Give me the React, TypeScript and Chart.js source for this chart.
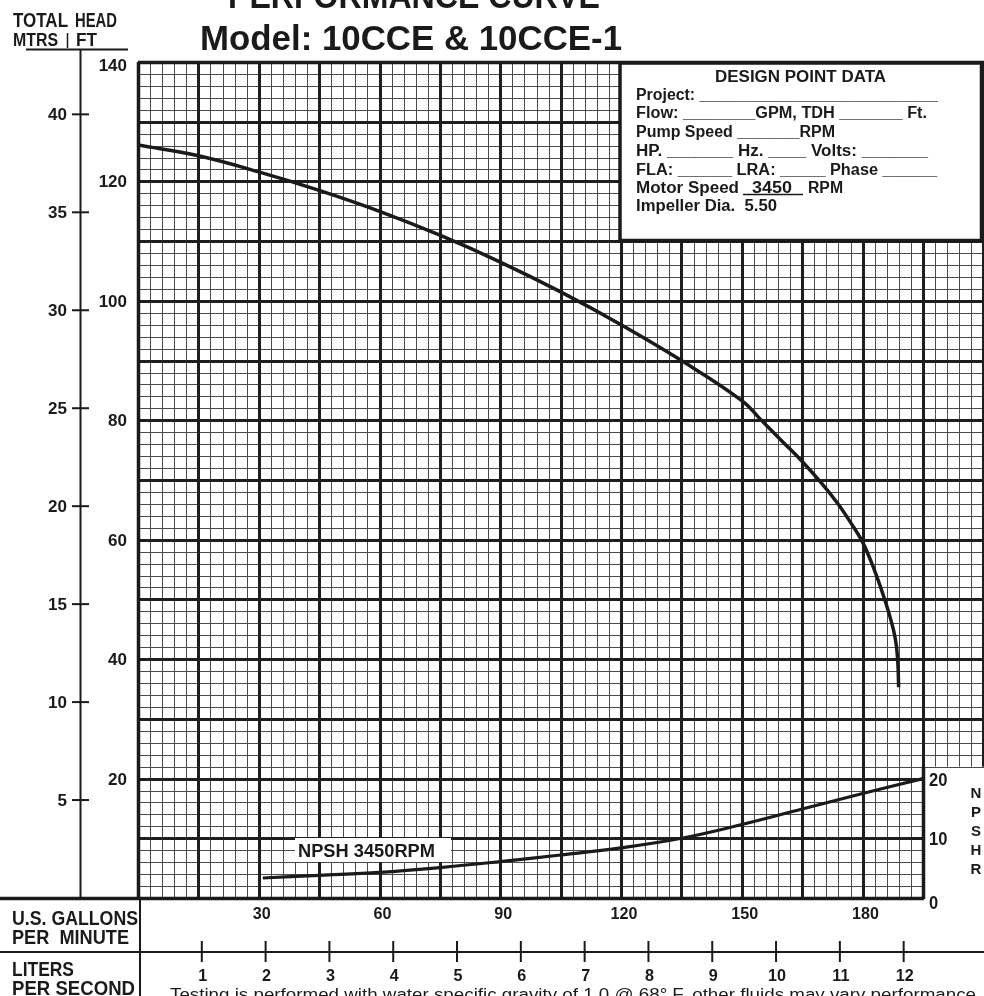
import React, { useEffect, useRef } from "react";
import { Chart, registerables } from "chart.js";

Chart.register(...registerables);

// ---- data ----
const headFlowGpm = [0, 15, 30, 45, 60, 75, 90, 105, 120, 135, 150, 155, 160, 165, 170, 174, 177, 180, 183, 185, 186.5, 187.7, 188.4, 188.8, 188.95];
const headFt = [126.1, 124.3, 121.6, 118.5, 115.0, 111.0, 106.5, 101.5, 96.0, 90.0, 83.3, 79.9, 76.5, 73.1, 69.3, 65.9, 62.9, 59.6, 54.8, 51.0, 47.8, 44.8, 42.2, 38.8, 35.3];

const npshFlowGpm = [31, 45, 60, 75, 90, 105, 120, 135, 150, 165, 180, 195];
const npshFt = [3.35, 3.8, 4.3, 5.1, 6.1, 7.2, 8.4, 10.0, 12.3, 14.9, 17.5, 20.0];

const gpmTicks = [30, 60, 90, 120, 150, 180];
const lpsTicks = [1, 2, 3, 4, 5, 6, 7, 8, 9, 10, 11, 12];
const ftTicks = [140, 120, 100, 80, 60, 40, 20];
const mtrsTicks = [40, 35, 30, 25, 20, 15, 10, 5];
const npshTicks = [20, 10, 0];

const X_MAX = 210.16;
const Y_MAX = 140;
const NPSH_END_GPM = 195;
const GPM_PER_LPS = 15.8503;
const FT_PER_M = 3.28084;

const FONT = '"Liberation Sans", Arial, "DejaVu Sans", sans-serif';

function txt(
  ctx: CanvasRenderingContext2D,
  text: string,
  x: number,
  y: number,
  size: number,
  opts: { width?: number; sx?: number; align?: CanvasTextAlign; weight?: string; family?: string } = {}
) {
  const { width, sx = 1, align = "left", weight = "bold", family = FONT } = opts;
  ctx.font = `${weight} ${size}px ${family}`;
  const w = ctx.measureText(text).width;
  const s = width ? width / w : sx;
  ctx.save();
  ctx.translate(x, y);
  ctx.scale(s, 1);
  ctx.textAlign = align;
  ctx.textBaseline = "alphabetic";
  ctx.fillStyle = "#1a1a1a";
  ctx.fillText(text, 0, 0);
  ctx.restore();
}

function line(ctx: CanvasRenderingContext2D, x1: number, y1: number, x2: number, y2: number, w: number, color = "#1a1a1a") {
  ctx.beginPath();
  ctx.strokeStyle = color;
  ctx.lineWidth = w;
  ctx.moveTo(x1, y1);
  ctx.lineTo(x2, y2);
  ctx.stroke();
}

const paperPlugin = {
  id: "paper",
  beforeDraw(chart: any) {
    const { ctx, width, height } = chart;
    ctx.save();
    ctx.fillStyle = "#ffffff";
    ctx.fillRect(0, 0, width, height);
    ctx.restore();
  },
  beforeDatasetsDraw(chart: any) {
    const { ctx } = chart;
    const x = chart.scales.x;
    const y = chart.scales.y;
    const ca = chart.chartArea;
    ctx.save();
    const xEnd = x.getPixelForValue(NPSH_END_GPM);
    const yBottom = y.getPixelForValue(0);
    const y22 = y.getPixelForValue(22);
    for (const pass of [0, 1]) {
      for (let g = 0; g <= 210; g += 3) {
        const major = g % 15 === 0;
        if ((pass === 1) !== major) continue;
        const px = Math.round(x.getPixelForValue(g)) + 0.5;
        const bottom = g <= NPSH_END_GPM ? yBottom : y22;
        line(ctx, px, ca.top, px, bottom, major ? 3 : 1, major ? "#1e1e1e" : "#4a4a4a");
      }
      for (let f = 0; f <= 140; f += 2) {
        const major = f % 10 === 0;
        if ((pass === 1) !== major) continue;
        const py = Math.round(y.getPixelForValue(f)) + 0.5;
        const right = f >= 22 ? ca.right : xEnd;
        line(ctx, ca.left, py, right, py, major ? 3 : 1, major ? "#1e1e1e" : "#4a4a4a");
      }
    }
    const x0 = Math.round(x.getPixelForValue(0)) + 0.5;
    line(ctx, x0, ca.top, x0, yBottom + 1, 3.5);
    line(ctx, ca.left, Math.round(ca.top) + 0.5, ca.right, Math.round(ca.top) + 0.5, 3.5);
    line(ctx, 0, Math.round(yBottom) + 0.5, xEnd + 1, Math.round(yBottom) + 0.5, 3.5);
    line(ctx, Math.round(xEnd) + 0.5, y.getPixelForValue(22), Math.round(xEnd) + 0.5, yBottom + 1, 3.5);
    ctx.restore();
  },
  afterDatasetsDraw(chart: any) {
    const { ctx } = chart;
    const x = chart.scales.x;
    const y = chart.scales.y;
    ctx.save();

    // ---- title ----
    txt(ctx, "PERFORMANCE CURVE", 228, 8, 35, { width: 372 });
    txt(ctx, "Model: 10CCE & 10CCE-1", 200, 50, 35, { width: 422 });

    // ---- header of the left axes ----
    txt(ctx, "TOTAL", 13, 27, 20, { width: 55 });
    txt(ctx, "HEAD", 75, 27, 20, { width: 42 });
    txt(ctx, "MTRS", 13, 46, 19, { width: 45 });
    line(ctx, 67.5, 33, 67.5, 48, 1.5);
    txt(ctx, "FT", 76, 46, 19, { width: 21 });
    line(ctx, 26, 49.5, 128, 49.5, 2);

    // ---- metres axis ----
    const yBottom = y.getPixelForValue(0);
    line(ctx, 80.5, 49, 80.5, yBottom, 2);
    for (const m of mtrsTicks) {
      const py = y.getPixelForValue(m * FT_PER_M);
      line(ctx, 72, py, 89, py, 2);
      txt(ctx, String(m), 67, py + 6, 17, { align: "right" });
    }

    // ---- feet labels ----
    for (const f of ftTicks) {
      const py = y.getPixelForValue(f);
      const off = f === 140 ? 9 : 6;
      txt(ctx, String(f), 127, py + off, 17, { align: "right" });
    }

    // ---- NPSH axis (right) ----
    for (const n of npshTicks) {
      const py = y.getPixelForValue(n);
      txt(ctx, String(n), 929, py + (n === 0 ? 11 : 7), 18, { sx: 0.92 });
    }
    const letters = ["N", "P", "S", "H", "R"];
    letters.forEach((c, i) => txt(ctx, c, 976, 798 + i * 19, 15, { align: "center" }));

    // ---- bottom axes ----
    for (const g of gpmTicks) {
      txt(ctx, String(g), x.getPixelForValue(g) + 3, 919, 17, { align: "center", sx: 0.95 });
    }
    txt(ctx, "U.S. GALLONS", 12, 925, 20, { width: 126 });
    txt(ctx, "PER  MINUTE", 12, 944, 20, { width: 117 });
    line(ctx, 0, 952, 984, 952, 2);
    line(ctx, 140, yBottom, 140, 996, 2);
    for (const l of lpsTicks) {
      const px = x.getPixelForValue(l * GPM_PER_LPS);
      line(ctx, px, 941, px, 962, 2);
      txt(ctx, String(l), px + 1, 981, 17, { align: "center", sx: 0.95 });
    }
    txt(ctx, "LITERS", 12, 976, 20, { width: 62 });
    txt(ctx, "PER SECOND", 12, 995, 20, { width: 123 });

    txt(
      ctx,
      "Testing is performed with water specific gravity of 1.0 @ 68\u00b0 F, other fluids may vary performance",
      170,
      1000,
      16,
      { width: 806, weight: "normal" }
    );

    // ---- NPSH label ----
    ctx.fillStyle = "#ffffff";
    ctx.fillRect(295, 838, 156, 24);
    txt(ctx, "NPSH 3450RPM", 298, 857, 19, { width: 137 });

    // ---- design point data box ----
    ctx.fillStyle = "#ffffff";
    ctx.fillRect(620, 62, 362, 179);
    ctx.strokeStyle = "#1a1a1a";
    ctx.lineWidth = 3.5;
    ctx.strokeRect(620, 63, 361.5, 177.5);
    txt(ctx, "DESIGN POINT DATA", 715, 82, 16, { width: 171 });
    txt(ctx, "Project: ___________________________", 636, 100, 16, { width: 302 });
    txt(ctx, "Flow: ________GPM, TDH _______ Ft.", 636, 118, 16, { width: 291 });
    txt(ctx, "Pump Speed _______RPM", 636, 136.5, 16, { width: 199 });
    txt(ctx, "HP. _______ Hz. ____ Volts: _______", 636, 156, 16, { width: 292 });
    txt(ctx, "FLA: ______ LRA: _____ Phase ______", 636, 175, 16, { width: 301 });
    txt(ctx, "Motor Speed", 636, 192.5, 16, { width: 103 });
    txt(ctx, "3450", 752, 192.5, 16, { width: 40 });
    line(ctx, 743, 194.5, 803, 194.5, 1.5);
    txt(ctx, "RPM", 808, 192.5, 16, { width: 35 });
    txt(ctx, "Impeller Dia.  5.50", 636, 210.5, 16, { width: 141 });

    ctx.restore();
  },
};

export default function App() {
  const ref = useRef<HTMLCanvasElement | null>(null);

  useEffect(() => {
    if (!ref.current) return;
    const chart = new Chart(ref.current, {
      type: "line",
      data: {
        datasets: [
          {
            label: "Head",
            data: headFlowGpm.map((g, i) => ({ x: g, y: headFt[i] })),
            borderColor: "#1a1a1a",
            borderWidth: 3.5,
            pointRadius: 0,
            tension: 0.4,
            fill: false,
          },
          {
            label: "NPSH 3450RPM",
            data: npshFlowGpm.map((g, i) => ({ x: g, y: npshFt[i] })),
            borderColor: "#1a1a1a",
            borderWidth: 3.2,
            pointRadius: 0,
            tension: 0.4,
            fill: false,
          },
        ],
      },
      options: {
        responsive: false,
        animation: false,
        devicePixelRatio: 1,
        layout: { padding: { left: 138, right: 0, top: 62, bottom: 98 } },
        plugins: { legend: { display: false }, tooltip: { enabled: false } },
        scales: {
          x: { type: "linear", min: 0, max: X_MAX, display: false },
          y: { type: "linear", min: 0, max: Y_MAX, display: false },
        },
      },
      plugins: [paperPlugin],
    } as any);
    return () => chart.destroy();
  }, []);

  return (
    <div style={{ position: "fixed", left: 0, top: 0, width: 984, height: 996, background: "#fff" }}>
      <canvas ref={ref} width={984} height={996} style={{ width: 984, height: 996, display: "block" }} />
    </div>
  );
}
